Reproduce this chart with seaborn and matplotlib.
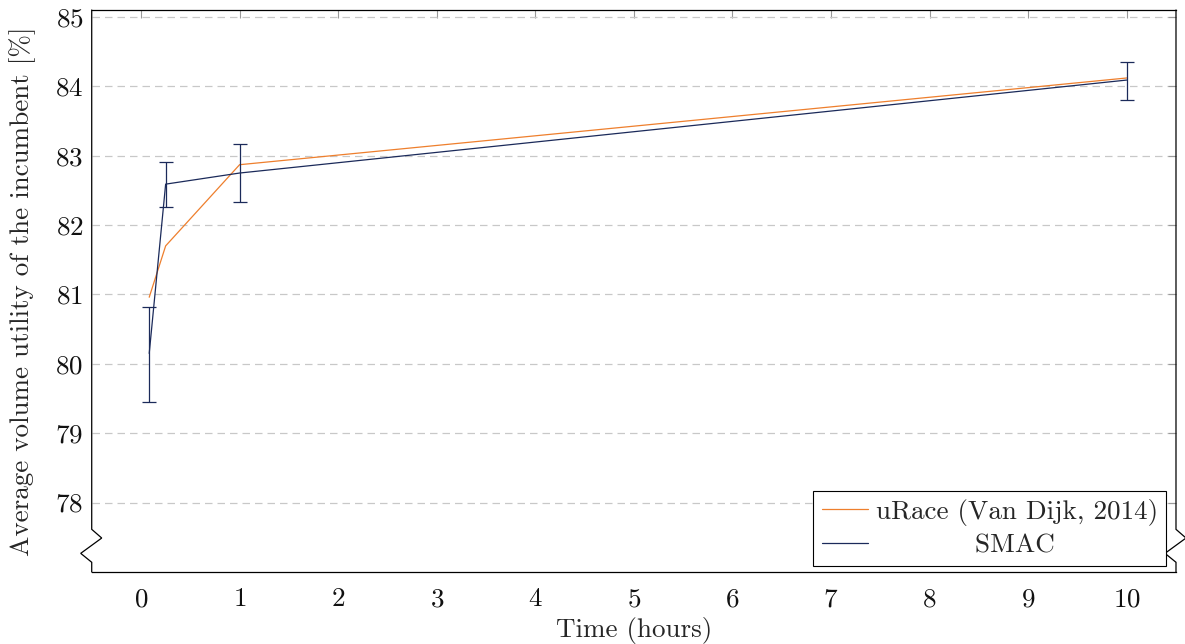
import numpy as np
import pandas as pd
import matplotlib
matplotlib.use("Agg")
import matplotlib.pyplot as plt
import seaborn as sns
from matplotlib.lines import Line2D

# ---- data ----
time_hours = [5/60, 0.25, 1.0, 10.0]
urace_mean = [80.96, 81.70, 82.87, 84.12]
smac_mean = [80.15, 82.59, 82.75, 84.09]
smac_err_low = [0.70, 0.33, 0.42, 0.29]
smac_err_high = [0.67, 0.32, 0.42, 0.26]
x_ticks = list(range(0, 11))
y_ticks = [78, 79, 80, 81, 82, 83, 84, 85]
series_names = ["uRace (Van Dijk, 2014)", "SMAC"]

ORANGE = "#ee7f2d"
NAVY = "#1b2a5a"
FS = 19.5

sns.set_style("white")
plt.rcParams["font.family"] = ["cmr10"]
plt.rcParams["mathtext.fontset"] = "cm"
plt.rcParams["axes.formatter.use_mathtext"] = True
plt.rcParams["font.size"] = FS

df = pd.DataFrame({
    "time": time_hours * 2,
    "value": urace_mean + smac_mean,
    "series": [series_names[0]] * 4 + [series_names[1]] * 4,
})

fig = plt.figure(figsize=(11.85, 6.44), dpi=100)
ax = fig.add_axes([0.0774, 0.1118, 0.9924 - 0.0774, 0.9845 - 0.1118])

sns.lineplot(data=df, x="time", y="value", hue="series",
             palette=[ORANGE, NAVY], linewidth=0.9, ax=ax, legend=False,
             estimator=None, sort=False)
ax.errorbar(time_hours, smac_mean, yerr=[smac_err_low, smac_err_high],
            fmt="none", ecolor=NAVY, elinewidth=0.9, capsize=5, capthick=0.9)

ax.set_xlim(-0.5, 10.5)
ax.set_ylim(77.0, 85.1)
ax.set_xticks(x_ticks)
ax.set_yticks(y_ticks)
ax.yaxis.grid(True, linestyle=(0, (6, 4)), color="#c8c8c8", linewidth=0.9)
ax.xaxis.grid(False)
ax.tick_params(axis="both", direction="in", length=6, width=0.8, color="#999999",
               top=True, right=True, labelsize=FS, labelcolor="#111111")
ax.tick_params(axis="x", pad=11)
ax.tick_params(axis="y", pad=6)

for s in ax.spines.values():
    s.set_color("black")
    s.set_linewidth(0.9)

# axis discontinuity (crunch) on left and right spines
ax.spines["left"].set_visible(False)
ax.spines["right"].set_visible(False)
tr = ax.get_yaxis_transform()
dxa = 10 / 1084
dxb = 11 / 1084
y_top_brk = 77.615
y_mid1 = y_top_brk - (537.7 - 529) / 69.33
y_mid2 = y_top_brk - (553 - 529) / 69.33
y_bot_brk = 77.14
for x0 in (0.0, 1.0):
    xs = [x0, x0, x0 - dxb, x0 + dxa, x0, x0]
    ys = [77.0, y_bot_brk, y_mid2, y_mid1, y_top_brk, 85.1]
    ax.plot(xs, ys, transform=tr, color="black", linewidth=0.9, clip_on=False,
            solid_joinstyle="miter")

ax.set_xlabel("Time (hours)", fontsize=FS, labelpad=4)
ax.set_ylabel("Average volume utility of the incumbent [%]", fontsize=FS, labelpad=14)

handles = [Line2D([], [], color=ORANGE, linewidth=0.9),
           Line2D([], [], color=NAVY, linewidth=0.9)]
leg = ax.legend(handles, [series_names[0], "           " + series_names[1]],
                loc="lower right", bbox_to_anchor=(1 - 10 / 1084, 6 / 562),
                frameon=True, fancybox=False, edgecolor="black", framealpha=1,
                handlelength=1.7, handletextpad=0.3, borderpad=0.3,
                labelspacing=0.3, fontsize=FS, borderaxespad=0)
leg.get_frame().set_linewidth(0.8)

fig.savefig("out.png", dpi=100)
